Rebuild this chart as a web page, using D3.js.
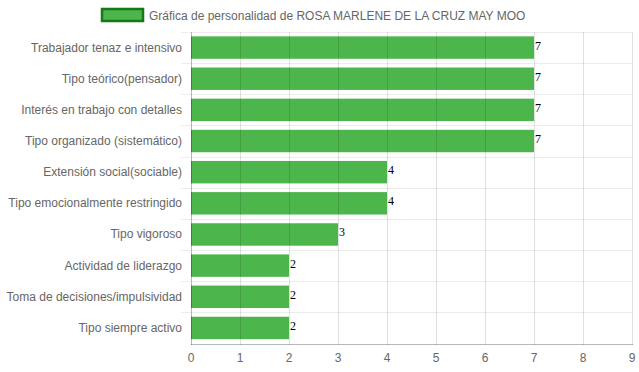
<!doctype html>
<html lang="es">
<head>
  <meta charset="utf-8">
  <title>Gráfica de personalidad</title>
  <script type="text/javascript" src="https://d3js.org/d3.v7.min.js"></script>
  <style>
    body { margin: 0; background: #fff; }
    text { font-family: "Liberation Sans", Arial, Helvetica, sans-serif; }
  </style>
</head>
<body>
<svg id="chart" width="639" height="372"></svg>
<script type="text/javascript">
var seriesName = "Gráfica de personalidad de ROSA MARLENE DE LA CRUZ MAY MOO";
var categories = ["Trabajador tenaz e intensivo", "Tipo teórico(pensador)", "Interés en trabajo con detalles",
                  "Tipo organizado (sistemático)", "Extensión social(sociable)", "Tipo emocionalmente restringido",
                  "Tipo vigoroso", "Actividad de liderazgo", "Toma de decisiones/impulsividad", "Tipo siempre activo"];
var values = [7, 7, 7, 7, 4, 4, 3, 2, 2, 2];
var xTicks = [0, 1, 2, 3, 4, 5, 6, 7, 8, 9];

var svg = d3.select("#chart");
var plotLeft = 191, plotRight = 632, plotTop = 32, plotBottom = 343.5;

var x = d3.scaleLinear().domain([0, 9]).range([plotLeft, plotRight]);
var y = d3.scaleBand().domain(categories).range([plotTop, plotBottom]).padding(0);
var barH = y.bandwidth() * 0.72;

// horizontal grid lines (band edges)
d3.range(categories.length).forEach(function(i) {
    var yy = Math.round(plotTop + i * y.step()) + 0.5;
    svg.append("line").attr("x1", 181).attr("x2", plotRight + 0.5)
        .attr("y1", yy).attr("y2", yy)
        .attr("stroke", "rgba(0,0,0,0.07)");
});

// bars
svg.selectAll(".bar").data(values).enter().append("rect")
    .attr("class", "bar")
    .attr("x", x(0))
    .attr("y", function(d, i) { return y(categories[i]) + (y.bandwidth() - barH) / 2; })
    .attr("width", function(d) { return x(d) - x(0); })
    .attr("height", barH)
    .attr("fill", "#4cb54c");

// vertical grid lines
xTicks.forEach(function(t) {
    var xx = Math.round(x(t)) + 0.5;
    svg.append("line").attr("x1", xx).attr("x2", xx)
        .attr("y1", plotTop).attr("y2", plotBottom + 1.5)
        .attr("stroke", t === 0 ? "rgba(0,0,0,0.28)" : "rgba(0,0,0,0.12)");
});

// x axis line
svg.append("line").attr("x1", plotLeft).attr("x2", plotRight + 1)
    .attr("y1", Math.round(plotBottom) + 0.5).attr("y2", Math.round(plotBottom) + 0.5)
    .attr("stroke", "rgba(0,0,0,0.28)");

// x tick labels
svg.selectAll(".xt").data(xTicks).enter().append("text")
    .attr("x", function(d) { return x(d); })
    .attr("y", 362)
    .attr("text-anchor", "middle")
    .attr("font-size", 12)
    .attr("fill", "#666")
    .text(function(d) { return d; });

// category labels
svg.selectAll(".yt").data(categories).enter().append("text")
    .attr("x", 182)
    .attr("y", function(d) { return y(d) + y.bandwidth() / 2 + 4; })
    .attr("text-anchor", "end")
    .attr("font-size", 12)
    .attr("fill", "#666")
    .text(function(d) { return d; });

// value labels
svg.selectAll(".val").data(values).enter().append("text")
    .attr("x", function(d) { return x(d) + 1; })
    .attr("y", function(d, i) { return y(categories[i]) + y.bandwidth() / 2 + 2; })
    .attr("font-size", 12)
    .attr("fill", "#000")
    .style("font-family", "'Liberation Serif', 'Times New Roman', serif")
    .text(function(d) { return d; });

// legend
svg.append("rect").attr("x", 102).attr("y", 9).attr("width", 41).attr("height", 12)
    .attr("fill", "#4cb54c").attr("stroke", "#137a16").attr("stroke-width", 2.5);
svg.append("text").attr("x", 149).attr("y", 19.5)
    .attr("font-size", 12).attr("fill", "#666")
    .text(seriesName);
</script>
</body>
</html>
